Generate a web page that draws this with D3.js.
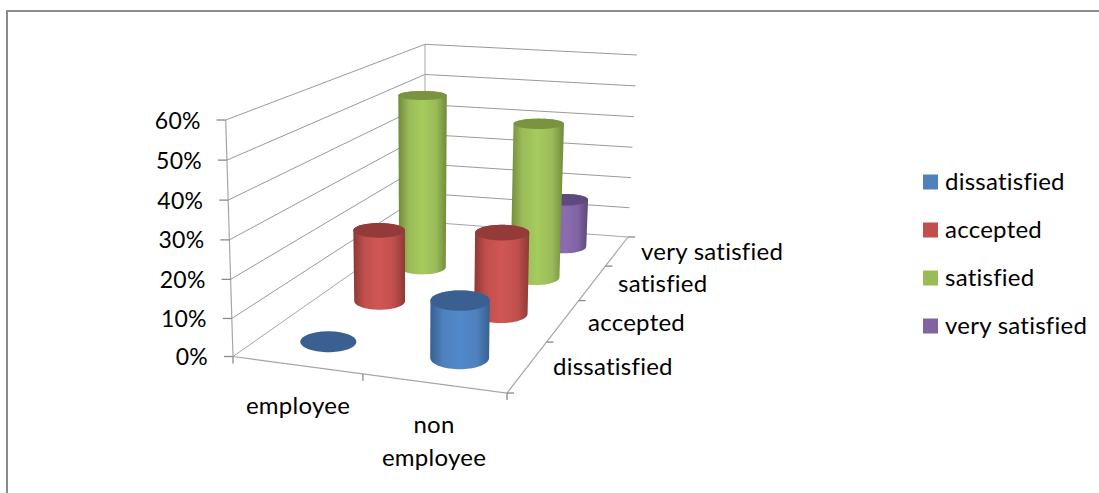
<!DOCTYPE html>
<html><head><meta charset="utf-8">
<script src="https://cdn.jsdelivr.net/npm/d3@7/dist/d3.min.js"></script>
<style>html,body{margin:0;background:#fff}svg{display:block}text{font-family:Lato,sans-serif;fill:#000;font-variant-ligatures:none;font-feature-settings:"liga" 0;letter-spacing:.25px}</style>
</head><body><svg id="c" width="1099" height="493"></svg>
<script>
const categories=["employee","non employee"];
const seriesNames=["dissatisfied","accepted","satisfied","very satisfied"];
const dissatisfied=[0,15];
const accepted=[20.5,23];
const satisfied=[52.5,46.3];
const verySatisfied=[null,15.5];
const seriesValues=[dissatisfied,accepted,satisfied,verySatisfied];
const valueTicks=[0,10,20,30,40,50,60];
const colours=["#4f81bd","#c0504d","#9bbb59","#8064a2"];
const lightColours=["#5089cc","#d15654","#a5cb5d","#8b6cb1"];
const darkColours=["#3a6091","#943a38","#799340","#5f4a80"];
const edgeColours=["#36608f","#8e3835","#6f8a3b","#5b467b"];

const svg=d3.select("#c");
const W=1099,H=493;
svg.append("rect").attr("width",W).attr("height",H).attr("fill","#fff");
svg.append("path").attr("d","M7,493V11H1099").attr("fill","none").attr("stroke","#8c8c8c").attr("stroke-width",2);

function quad(p00,p10,p11,p01){
  const [x0,y0]=p00,[x1,y1]=p10,[x2,y2]=p11,[x3,y3]=p01;
  const dx1=x1-x2,dx2=x3-x2,sx=x0-x1+x2-x3,dy1=y1-y2,dy2=y3-y2,sy=y0-y1+y2-y3;
  const det=dx1*dy2-dx2*dy1;
  const g=(sx*dy2-dx2*sy)/det,h=(dx1*sy-sx*dy1)/det;
  const a=x1-x0+g*x1,b=x3-x0+h*x3,d=y1-y0+g*y1,e=y3-y0+h*y3;
  return (u,v)=>{const w=g*u+h*v+1;return [(a*u+b*v+x0)/w,(d*u+e*v+y0)/w];};
}
const floorP=quad([233,356.5],[507,393],[628,237],[425,222]);
const topP=quad([225.7,120],[510.5,143],[637,55],[425,44.3]);
const y=d3.scalePow().exponent(1.02).domain([0,60]).range([0,1]);
const xBand=d3.scaleBand().domain(categories).range([0.009,1.009]);
const zBand=d3.scaleBand().domain(seriesNames).range([0,1]);
const zPoint=d3.scalePoint().domain(d3.range(5)).range([0,1]);
const xTick=d3.scalePoint().domain(d3.range(3)).range([0,1]);
function P(u,v,val){
  const a=floorP(u,v),b=topP(u,v),t=y(val);
  return [a[0]+(b[0]-a[0])*t,a[1]+(b[1]-a[1])*t];
}
const line=d3.line();
const gridC="#a6a6a6",axisC="#8a8a8a";
const g=svg.append("g").attr("fill","none");
valueTicks.forEach(t=>{
  g.append("path").attr("d",line([P(0,0,t),P(0,1,t),P(1,1,t)])).attr("stroke",t===0?gridC:"#9a9a9a").attr("stroke-width",1);
});
g.append("path").attr("d",line([P(0,1,0),P(0,1,60)])).attr("stroke",gridC);
g.append("path").attr("d",line([P(0,0,0),P(0,0,60)])).attr("stroke","#a6a6a6").attr("stroke-width",1.2);
g.append("path").attr("d",line([P(0,0,0),P(1,0,0),P(1,1,0)])).attr("stroke","#a6a6a6").attr("stroke-width",1.2);
valueTicks.forEach(t=>{
  const p=P(0,0,t);
  g.append("path").attr("d",line([[p[0]-9,p[1]],p])).attr("stroke",axisC).attr("stroke-width",1.3);
  svg.append("text").attr("x",p[0]-25).attr("y",p[1]+0.5).attr("dy","0.35em").attr("text-anchor","end").attr("font-size",23).text(t+"%");
});
xTick.domain().forEach(i=>{
  const p=P(xTick(i),0,0);
  g.append("path").attr("d",line([p,[p[0],p[1]+7]])).attr("stroke",axisC).attr("stroke-width",1.3);
});
zPoint.domain().forEach(i=>{
  const p=P(1,zPoint(i),0);
  g.append("path").attr("d",line([p,[p[0]+7,p[1]]])).attr("stroke",axisC).attr("stroke-width",1.3);
});

const defs=svg.append("defs");
seriesNames.forEach((s,i)=>{
  const lg=defs.append("linearGradient").attr("id","grad"+i);
  lg.append("stop").attr("offset","0%").attr("stop-color",edgeColours[i]);
  lg.append("stop").attr("offset","22%").attr("stop-color",colours[i]);
  lg.append("stop").attr("offset","50%").attr("stop-color",lightColours[i]);
  lg.append("stop").attr("offset","78%").attr("stop-color",colours[i]);
  lg.append("stop").attr("offset","100%").attr("stop-color",edgeColours[i]);
});
const ru=0.1,rv=0.056,N=72;
function circle(u,v,val){
  const pts=d3.range(N).map(k=>{const a=k/N*2*Math.PI;return P(u+ru*Math.cos(a),v+rv*Math.sin(a),val);});
  const c=P(u,v,val);
  const rx=(d3.max(pts,p=>p[0])-d3.min(pts,p=>p[0]))/2,ry=(d3.max(pts,p=>p[1])-d3.min(pts,p=>p[1]))/2;
  return d3.range(N).map(k=>{const a=k/N*2*Math.PI;return [c[0]+rx*Math.cos(a),c[1]+ry*Math.sin(a)];});
}
const bars=svg.append("g");
d3.range(seriesNames.length).reverse().forEach(si=>{
  categories.forEach((c,ci)=>{
    const val=seriesValues[si][ci];
    if(val==null)return;
    const u=xBand(c)+xBand.bandwidth()/2,v=zBand(seriesNames[si])+zBand.bandwidth()/2;
    const base=circle(u,v,0),top=circle(u,v,val);
    if(val>0){
      bars.append("path").attr("d",line(d3.polygonHull(base.concat(top)))+"Z").attr("fill",`url(#grad${si})`);
    }
    bars.append("path").attr("d",line(top)+"Z").attr("fill",darkColours[si]);
  });
});
const catLines=[["employee"],["non","employee"]];
const catPos=[[298,406],[434,425]];
catLines.forEach((ls,i)=>ls.forEach((l,j)=>{
  svg.append("text").attr("x",catPos[i][0]).attr("y",catPos[i][1]+j*33).attr("dy","0.35em").attr("text-anchor","middle").attr("font-size",24).text(l);
}));
const depthPos=[[553,367],[588,323],[618,284],[641,252]];
seriesNames.forEach((s,i)=>{
  svg.append("text").attr("x",depthPos[i][0]).attr("y",depthPos[i][1]).attr("dy","0.35em").attr("font-size",24).text(s);
});
const legY=d3.scalePoint().domain(seriesNames).range([182,326]);
seriesNames.forEach((s,i)=>{
  svg.append("rect").attr("x",923).attr("y",legY(s)-7.5).attr("width",15).attr("height",15).attr("fill",colours[i]);
  svg.append("text").attr("x",945).attr("y",legY(s)).attr("dy","0.35em").attr("font-size",24).text(s);
});
</script></body></html>
